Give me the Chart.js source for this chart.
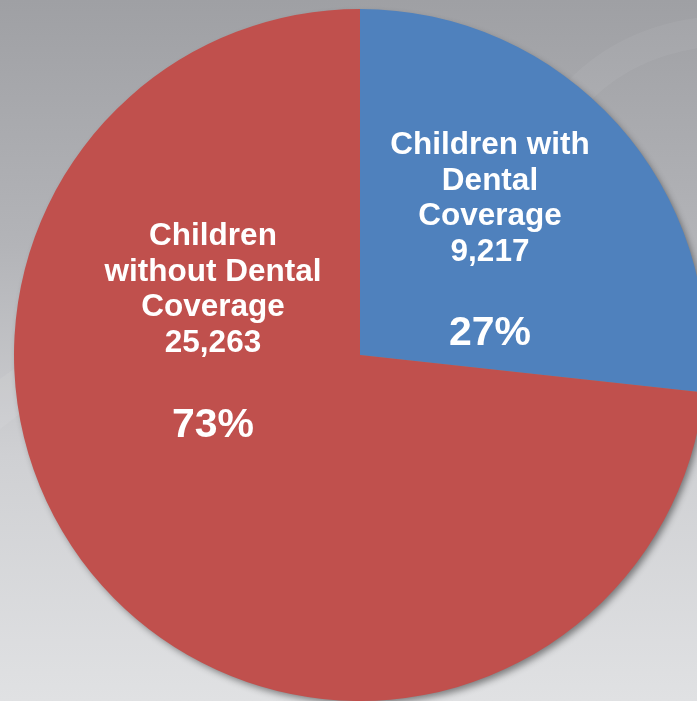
<!DOCTYPE html>
<html>
<head>
<meta charset="utf-8">
<script src="https://cdn.jsdelivr.net/npm/chart.js@4"></script>
<style>
  html, body { margin: 0; padding: 0; overflow: hidden; width: 697px; height: 701px; }
  #wrap { position: absolute; left: 0; top: 0; width: 720px; height: 701px; }
</style>
</head>
<body>
<div id="wrap"><canvas id="coverageChart" width="720" height="701"></canvas></div>
<script>
// Dental coverage pie
const categories = ['Children with Dental Coverage', 'Children without Dental Coverage'];
const counts = [9217, 25263];
const labelLines = [
    ['Children with', 'Dental', 'Coverage'],
    ['Children', 'without Dental', 'Coverage']
];
const sliceColors = ['#4F81BD', '#C0504D'];

const total = counts.reduce((a, b) => a + b, 0);
const FONT = '"Liberation Sans", Arial, Helvetica, sans-serif';

// grey slide-style background with a couple of soft light sweeps
const backdrop = {
    id: 'backdrop',
    beforeDraw(chart) {
        const ctx = chart.ctx;
        const w = chart.width, h = chart.height;
        ctx.save();
        const g = ctx.createLinearGradient(0, 0, 0, h);
        g.addColorStop(0, '#9fa0a4');
        g.addColorStop(0.35, '#b3b4b8');
        g.addColorStop(0.65, '#cfd0d3');
        g.addColorStop(1, '#e0e1e3');
        ctx.fillStyle = g;
        ctx.fillRect(0, 0, w, h);

        ctx.strokeStyle = 'rgba(255,255,255,0.07)';
        ctx.lineWidth = 40;
        ctx.beginPath();
        ctx.moveTo(-20, 420);
        ctx.quadraticCurveTo(120, 300, 330, 290);
        ctx.stroke();
        ctx.strokeStyle = 'rgba(255,255,255,0.05)';
        ctx.lineWidth = 30;
        ctx.beginPath();
        ctx.moveTo(580, 90);
        ctx.quadraticCurveTo(640, 30, 740, 30);
        ctx.stroke();
        ctx.restore();
    }
};

// drop shadow under the whole pie
const pieShadow = {
    id: 'pieShadow',
    beforeDatasetsDraw(chart) {
        const arc = chart.getDatasetMeta(0).data[0];
        if (!arc) return;
        const ctx = chart.ctx;
        ctx.save();
        ctx.shadowColor = 'rgba(0,0,0,0.45)';
        ctx.shadowBlur = 7;
        ctx.shadowOffsetX = 3;
        ctx.shadowOffsetY = 4;
        ctx.fillStyle = '#888';
        ctx.beginPath();
        ctx.arc(arc.x, arc.y, arc.outerRadius - 1, 0, Math.PI * 2);
        ctx.fill();
        ctx.restore();
    }
};

// white text inside the slices
const sliceText = {
    id: 'sliceText',
    afterDatasetsDraw(chart) {
        const arc = chart.getDatasetMeta(0).data[0];
        if (!arc) return;
        const ctx = chart.ctx;
        const cx = arc.x, cy = arc.y;
        const spots = [
            { x: cx + 130, top: cy - 201, pct: cy - 10 },
            { x: cx - 147, top: cy - 110, pct: cy + 82 }
        ];
        ctx.save();
        ctx.fillStyle = '#ffffff';
        ctx.textAlign = 'center';
        ctx.textBaseline = 'alphabetic';
        spots.forEach((s, i) => {
            const lines = labelLines[i].concat([counts[i].toLocaleString('en-US')]);
            ctx.font = 'bold 31.5px ' + FONT;
            lines.forEach((t, j) => ctx.fillText(t, s.x, s.top + j * 35.5));
            ctx.font = 'bold 41px ' + FONT;
            ctx.fillText(Math.round(counts[i] / total * 100) + '%', s.x, s.pct);
        });
        ctx.restore();
    }
};

function drawChart() {
    const ctx = document.getElementById('coverageChart').getContext('2d');
    return new Chart(ctx, {
        type: 'pie',
        data: {
            labels: categories,
            datasets: [{
                data: counts,
                backgroundColor: sliceColors,
                borderWidth: 0,
                hoverOffset: 0
            }]
        },
        options: {
            responsive: false,
            animation: false,
            layout: { padding: { left: 14, top: 9, right: 14, bottom: 0 } },
            plugins: {
                legend: { display: false },
                tooltip: { enabled: false }
            }
        },
        plugins: [backdrop, pieShadow, sliceText]
    });
}

Promise.all([
    document.fonts.load('bold 31.5px "Liberation Sans"'),
    document.fonts.load('bold 41px "Liberation Sans"')
]).then(drawChart, drawChart);
</script>
</body>
</html>
